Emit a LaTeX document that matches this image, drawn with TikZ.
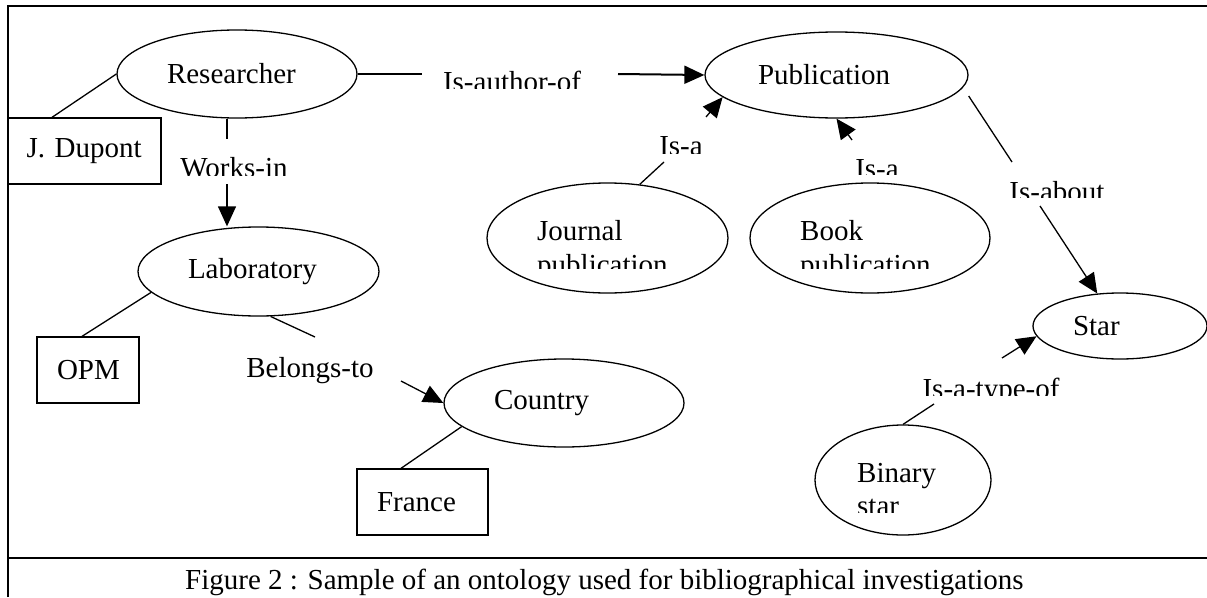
\documentclass[tikz,border=0pt]{standalone}
\usepackage{fontspec}
\setmainfont{Liberation Serif}
\usetikzlibrary{shapes.geometric,arrows.meta}
\begin{document}
\begin{tikzpicture}[x=1pt, y=-1pt, font=\fontsize{29}{34}\selectfont,
    concept/.style={draw, ellipse, line width=1.3pt, inner sep=0pt, align=left},
    instance/.style={draw, rectangle, line width=1.3pt, inner xsep=20pt, inner ysep=0pt, minimum height=66pt, align=left},
    rel/.style={inner sep=0pt},
    link/.style={line width=1.3pt},
    arr/.style={line width=1.3pt, -{Triangle[length=20pt, width=18pt]}},
    frame/.style={line width=2pt}]
    \useasboundingbox (0,0) rectangle (1207,597);
    \draw[frame] (8,597) -- (8,6) -- (1207,6);
    \draw[frame] (8,558) -- (1207,558);
    % concepts
    \node[concept, minimum width=240pt, minimum height=88pt, text width=140pt] (researcher) at (237,74) {Researcher};
    \node[concept, minimum width=241pt, minimum height=89pt, text width=141pt] (laboratory) at (258.5,271.5) {Laboratory};
    \node[concept, minimum width=263pt, minimum height=86pt, text width=157pt] (publication) at (836.5,75) {Publication};
    \node[concept, minimum width=241pt, minimum height=110pt] (journal) at (607.5,238) {};
    \node[concept, minimum width=240pt, minimum height=110pt] (book) at (870,238) {};
    \node[concept, minimum width=240pt, minimum height=88pt, text width=140pt] (country) at (564,403) {Country};
    \node[concept, minimum width=174pt, minimum height=66pt, text width=94pt] (star) at (1120,326) {Star};
    \node[concept, minimum width=176pt, minimum height=110pt] (binary) at (903,480) {};
    \node[rel, anchor=base west] (journal-1) at (537,240) {Journal};
    \node[rel, anchor=base west] (book-1) at (800,240) {Book};
    \node[rel, anchor=base west] (binary-1) at (857,482) {Binary};
    % instances
    \node[instance, text width=116pt, inner xsep=18.5pt] (dupont) at (84.5,151) {J. Dupont};
    \node[instance, text width=62pt] (opm) at (88,370) {OPM};
    \node[instance, text width=91pt] (france) at (422.5,502) {France};
    % relations
    \node[rel, anchor=base] (belongsto) at (310,377) {Belongs-to};
    \begin{scope}
        \clip (160,140) rectangle (310,175)
              (430,55) rectangle (600,88)
              (650,125) rectangle (715,153)
              (840,150) rectangle (915,174)
              (1000,175) rectangle (1115,197)
              (905,365) rectangle (1075,395)
              (530,250) rectangle (680,268)
              (795,250) rectangle (960,268)
              (850,490) rectangle (930,512);
        \node[rel, anchor=base] (worksin) at (234,177) {Works-in};
        \node[rel, anchor=base] (isauthorof) at (512,91) {Is-author-of};
        \node[rel, anchor=base] (isa-journal) at (681,155) {Is-a};
        \node[rel, anchor=base] (isa-book) at (877,178) {Is-a};
        \node[rel, anchor=base] (isabout) at (1057,201) {Is-about};
        \node[rel, anchor=base] (isatypeof) at (991,398) {Is-a-type-of};
        \node[rel, anchor=base west] (journal-2) at (537,274) {publication};
        \node[rel, anchor=base west] (book-2) at (800,274) {publication};
        \node[rel, anchor=base west] (binary-2) at (857,515) {star};
    \end{scope}
    \coordinate (wi-a) at (227,139);
    \coordinate (wi-b) at (227,184);
    \coordinate (ao-a) at (422,74);
    \coordinate (ao-b) at (618,74);
    \coordinate (isa1-a) at (664,162);
    \coordinate (isa1-b) at (706,117);
    \coordinate (isa2-b) at (852,140);
    \coordinate (ab-a) at (1012,162);
    \coordinate (ab-b) at (1040,206);
    \coordinate (bt-a) at (315,337);
    \coordinate (bt-b) at (401,381);
    \coordinate (to-a) at (934,404);
    \coordinate (to-b) at (1002,358);
    % connectors
    \draw[link] (researcher.west) -- ([xshift=-32.5pt]dupont.north);
    \draw[link] (laboratory.191) -- ([xshift=-6pt]opm.north);
    \draw[link] (country.193) -- ([xshift=-21.5pt]france.north);
    \draw[link] (researcher.south -| wi-a) -- (wi-a);
    \draw[arr] (wi-b) -- (wi-b |- laboratory.north);
    \draw[link, line width=2pt] (researcher.east) -- (ao-a);
    \draw[arr, line width=2pt] (ao-b) -- (publication.west);
    \draw[link] (journal.59) -- (isa1-a);
    \draw[arr] (isa1-b) -- (publication.191);
    \draw[arr] (isa2-b) -- (publication.south);
    \draw[link] ([yshift=-21pt]publication.east) -- (ab-a);
    \draw[arr] (ab-b) -- (star.125);
    \draw[link] (laboratory.285) -- (bt-a);
    \draw[arr] (bt-b) -- (country.west);
    \draw[link] (binary.north) -- (to-a);
    \draw[arr] (to-b) -- (star.187);
    % caption
    \node[rel, anchor=base west] (caption) at (185,589) {Figure 2 : Sample of an ontology used for bibliographical investigations};
\end{tikzpicture}
\end{document}
